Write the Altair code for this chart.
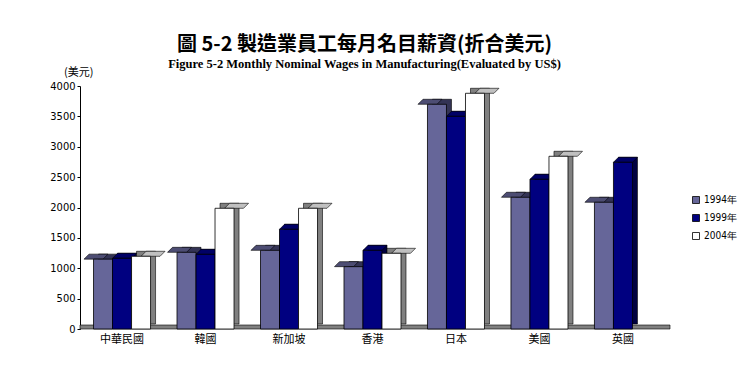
import altair as alt
import pandas as pd

countries = ["中華民國", "韓國", "新加坡", "香港", "日本", "美國", "英國"]
years = ["1994年", "1999年", "2004年"]
wages_1994 = [1150, 1262, 1295, 1026, 3699, 2168, 2086]
wages_1999 = [1164, 1229, 1641, 1295, 3501, 2464, 2744]
wages_2004 = [1197, 1987, 1987, 1246, 3880, 2843, None]
y_ticks = [0, 500, 1000, 1500, 2000, 2500, 3000, 3500, 4000]

front_colors = ["#666699", "#000080", "#FFFFFF"]
top_colors = ["#4D4D73", "#000066", "#C0C0C0"]
side_colors = ["#333355", "#000040", "#808080"]

rows = []
for yi, (yr, vals) in enumerate(zip(years, [wages_1994, wages_1999, wages_2004])):
    for c, v in zip(countries, vals):
        if v is None:
            continue
        rows.append({"country": c, "year": yr, "value": v,
                     "top": top_colors[yi], "side": side_colors[yi]})
df = pd.DataFrame(rows)

W, H = 585, 243
DEPTH = 5
P_IN, P_OUT = 0.317, 0.162
STEP = W / (len(countries) - P_IN + 2 * P_OUT)
BW = STEP * (1 - P_IN)

xenc = alt.X("country:N", sort=countries,
             scale=alt.Scale(paddingInner=P_IN, paddingOuter=P_OUT),
             axis=alt.Axis(title=None, domain=False, ticks=False, labelAngle=0,
                           labelFont="Noto Sans CJK TC", labelFontSize=11,
                           labelColor="black", labelPadding=4))
xoff_front = alt.XOffset("year:N", sort=years,
                         scale=alt.Scale(domain=years, range=[0, BW], paddingInner=0, paddingOuter=0))
xoff_side = alt.XOffset("year:N", sort=years,
                        scale=alt.Scale(domain=years, range=[DEPTH, BW + DEPTH], paddingInner=0, paddingOuter=0))
yscale = alt.Scale(domain=[0, 4000], nice=False)
yaxis = alt.Axis(title=None, values=y_ticks, grid=False, format="d", labelOverlap=False,
                 domainColor="black", tickColor="black", tickSize=3,
                 labelFont="Liberation Sans Narrow, DejaVu Sans Condensed, sans-serif",
                 labelFontSize=11, labelColor="black", labelPadding=2)
yenc = alt.Y("value:Q", scale=yscale, axis=yaxis)

base = alt.Chart(df)

floor = alt.Chart(pd.DataFrame({"a": [0]})).mark_rect(
    fill="#808080", stroke="black", strokeWidth=0.6, y2Offset=-4
).encode(x=alt.value(0), x2=alt.value(590), y=alt.Y(datum=0, scale=yscale, axis=yaxis),
         y2=alt.datum(0))

side = base.mark_bar(yOffset=-DEPTH, y2Offset=-DEPTH,
                     stroke="black", strokeWidth=0.6).encode(
    x=xenc, xOffset=xoff_side, y=yenc, fill=alt.Fill("side:N", scale=None))

top_path = "M -0.95 0 L 0.95 0 L 1.45 -0.5 L -0.45 -0.5 Z"
top = base.mark_point(shape=top_path, size=400, filled=True, opacity=1,
                      stroke="black", strokeWidth=0.6).encode(
    x=xenc, xOffset=xoff_front, y=yenc, fill=alt.Fill("top:N", scale=None))

front = base.mark_bar(stroke="black", strokeWidth=0.8).encode(
    x=xenc, xOffset=xoff_front, y=yenc,
    color=alt.Color("year:N", sort=years,
                    scale=alt.Scale(domain=years, range=front_colors),
                    legend=alt.Legend(title=None, orient="none", legendX=611, legendY=109,
                                      symbolType="square", symbolSize=49,
                                      symbolStrokeColor="black", symbolStrokeWidth=0.8,
                                      labelFont="Liberation Sans Narrow, DejaVu Sans Condensed, sans-serif",
                                      labelFontSize=10, labelColor="black",
                                      rowPadding=6, labelOffset=3, padding=0)))

texts = pd.DataFrame({"a": [0]})
title = alt.Chart(texts).mark_text(
    text="圖 5-2  製造業員工每月名目薪資(折合美元)", font="Noto Sans CJK TC",
    fontSize=20, fontWeight="bold", color="black", align="center", baseline="middle"
).encode(x=alt.value(W / 2 - 8), y=alt.value(-41))
subtitle = alt.Chart(texts).mark_text(
    text="Figure 5-2  Monthly Nominal Wages in Manufacturing(Evaluated by US$)",
    font="Liberation Serif", fontSize=12.5, fontWeight="bold", color="black",
    align="center", baseline="middle"
).encode(x=alt.value(W / 2 - 8), y=alt.value(-22))
unit = alt.Chart(texts).mark_text(
    text="(美元)", font="Noto Sans CJK TC", fontSize=11, color="black",
    align="left", baseline="middle"
).encode(x=alt.value(-16), y=alt.value(-13))

chart = alt.layer(floor, side, top, front, title, subtitle, unit).resolve_scale(
    xOffset="independent"
).properties(
    width=W, height=H,
    autosize=alt.AutoSizeParams(type="none"),
    padding={"left": 80, "top": 86, "right": 79, "bottom": 40},
    background="white",
).configure_view(stroke=None)

chart.save("out.html", embed_options={"renderer": "svg", "actions": False})
